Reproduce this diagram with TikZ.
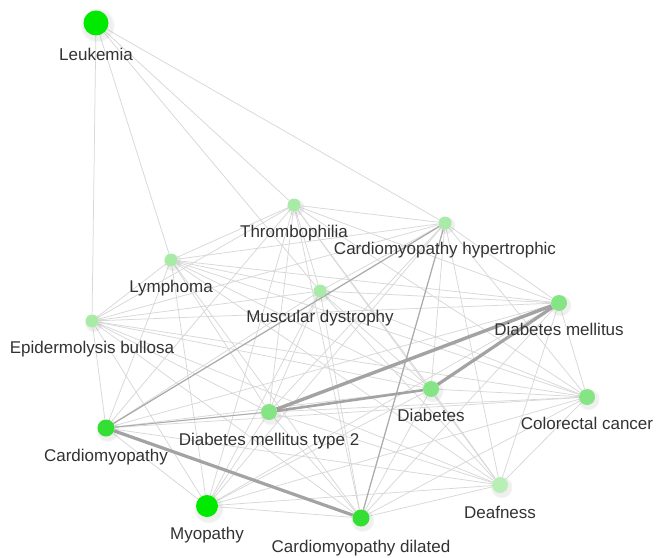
\documentclass[tikz,border=0pt]{standalone}
\usepackage{fontspec}
\newfontfamily\lblfont{Liberation Sans}
\usetikzlibrary{backgrounds,shadows}
\definecolor{labelc}{HTML}{333333}
\definecolor{edgec}{HTML}{D8D8D8}
\definecolor{heavyc}{HTML}{A3A3A3}
\definecolor{midc}{HTML}{ABABAB}
\definecolor{gA}{HTML}{00EA00}
\definecolor{gB}{HTML}{33DF33}
\definecolor{gC}{HTML}{7AE57A}
\definecolor{gD}{HTML}{9BEB9B}
\definecolor{gE}{HTML}{B2EFB2}
\tikzset{
  nd/.style={circle, inner sep=0pt, minimum size=#1, draw=none,
    circular drop shadow={shadow xshift=1pt, shadow yshift=-1.5pt, shadow scale=1.4, opacity=0.12}},
  lbl/.style={font=\lblfont\fontsize{17}{19}\selectfont, text=labelc, anchor=base, inner sep=0pt},
  edge/.style={draw=edgec, line width=0.75pt},
  heavy/.style={draw=heavyc, line width=#1},
  midedge/.style={draw=midc, line width=1.2pt}
}
\begin{document}
\begin{tikzpicture}[x=1pt,y=-1pt]
\useasboundingbox (0,0) rectangle (656,557);
% nodes
\node[nd=25pt, fill=gA] (Leu) at (96,23) {};
\node[nd=13pt, fill=gD, fill opacity=0.85] (T) at (294,205) {};
\node[nd=13pt, fill=gD, fill opacity=0.85] (CH) at (445,223) {};
\node[nd=13pt, fill=gD, fill opacity=0.85] (L) at (171,260) {};
\node[nd=13pt, fill=gD, fill opacity=0.85] (MD) at (320,291) {};
\node[nd=16pt, fill=gC, fill opacity=0.9] (DM) at (559,303) {};
\node[nd=13pt, fill=gD, fill opacity=0.85] (EB) at (92,321) {};
\node[nd=16pt, fill=gC, fill opacity=0.9] (D) at (431,389) {};
\node[nd=16pt, fill=gC, fill opacity=0.9] (T2) at (269,412) {};
\node[nd=16pt, fill=gC, fill opacity=0.9] (CC) at (587,397) {};
\node[nd=17pt, fill=gB] (C) at (106,428) {};
\node[nd=16pt, fill=gE, fill opacity=0.9] (Df) at (500,485) {};
\node[nd=22pt, fill=gA] (My) at (207,506) {};
\node[nd=17pt, fill=gB] (CD) at (361,518) {};
% labels
\node[lbl] (Leu-l) at (96,60) {Leukemia};
\node[lbl] (T-l) at (294,237) {Thrombophilia};
\node[lbl] (CH-l) at (445,254) {Cardiomyopathy hypertrophic};
\node[lbl] (L-l) at (171,292) {Lymphoma};
\node[lbl] (MD-l) at (320,322) {Muscular dystrophy};
\node[lbl] (DM-l) at (559,335) {Diabetes mellitus};
\node[lbl] (EB-l) at (92,353) {Epidermolysis bullosa};
\node[lbl] (D-l) at (431,421) {Diabetes};
\node[lbl] (T2-l) at (269,445) {Diabetes mellitus type 2};
\node[lbl] (CC-l) at (587,429) {Colorectal cancer};
\node[lbl] (C-l) at (106,461) {Cardiomyopathy};
\node[lbl] (Df-l) at (500,518) {Deafness};
\node[lbl] (My-l) at (207,539) {Myopathy};
\node[lbl] (CD-l) at (361,552) {Cardiomyopathy dilated};
% edges
\begin{scope}[on background layer]
\fill[white] (0,0) rectangle (656,557);
\foreach \b in {EB,L,MD,T,CH} \draw[edge] (Leu) -- (\b);
\foreach \a [count=\i] in {T,CH,L,MD,DM,EB,D,T2,CC,C,Df,My,CD}{
  \foreach \b [count=\j] in {T,CH,L,MD,DM,EB,D,T2,CC,C,Df,My,CD}{
    \ifnum\j>\i \draw[edge] (\a) -- (\b); \fi
  }
}
\draw[midedge] (C) -- (CH);
\draw[midedge] (CD) -- (CH);
\draw[draw=midc, line width=1pt] (C) -- (T2);
\draw[heavy=2.6pt] (T2) -- (D);
\draw[heavy=3.2pt] (D) -- (DM);
\draw[heavy=3.4pt] (T2) -- (DM);
\draw[heavy=3.2pt] (C) -- (CD);
\end{scope}
\end{tikzpicture}
\end{document}
